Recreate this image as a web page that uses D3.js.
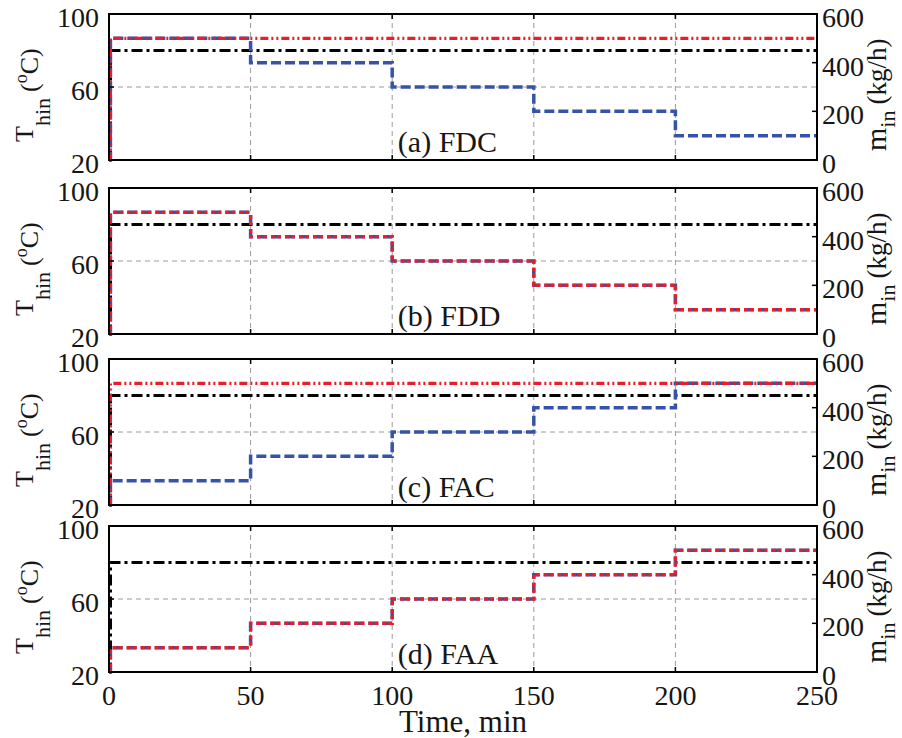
<!DOCTYPE html>
<html>
<head>
<meta charset="utf-8">
<script src="https://cdn.jsdelivr.net/npm/d3@7"></script>
<style>
  html, body { margin: 0; padding: 0; background: #fff; }
  svg { display: block; }
</style>
</head>
<body>
<svg id="chart" width="902" height="738"></svg>
<script>
// Time base of the step programmes (min)
const times = [0, 0.5, 50, 100, 150, 200, 250];

// Inlet flow programmes (kg/h), right axis
const blueFDC = [0, 500, 400, 300, 200, 100, 100];
const redFDC  = [0, 500, 500, 500, 500, 500, 500];
const blueFDD = [0, 500, 400, 300, 200, 100, 100];
const redFDD  = [0, 500, 400, 300, 200, 100, 100];
const blueFAC = [0, 100, 200, 300, 400, 500, 500];
const redFAC  = [0, 500, 500, 500, 500, 500, 500];
const blueFAA = [0, 100, 200, 300, 400, 500, 500];
const redFAA  = [0, 100, 200, 300, 400, 500, 500];

// Hot inlet temperature (°C), left axis
const tempHot = [20, 80, 80, 80, 80, 80, 80];

const panelNames = ["(a) FDC", "(b) FDD", "(c) FAC", "(d) FAA"];
const blueSeries = [blueFDC, blueFDD, blueFAC, blueFAA];
const redSeries  = [redFDC, redFDD, redFAC, redFAA];

const xTicks = [0, 50, 100, 150, 200, 250];
const leftTicks = [20, 60, 100];
const rightTicks = [0, 200, 400, 600];

const FONT = "'Liberation Serif', 'Times New Roman', serif";
const svg = d3.select("#chart");
const left = 109, right = 817;
const panelTops = [14, 188, 359, 526];
const panelH = 146;

const x = d3.scaleLinear().domain([0, 250]).range([left, right]);

const BLUE = "#3553a8", RED = "#ee1c25", BLACK = "#000";
const tickLen = 5;

function txt(sel) {
  return sel.attr("font-family", FONT).attr("fill", "#161616");
}

panelNames.forEach((name, i) => {
  const top = panelTops[i], bottom = top + panelH;
  const yL = d3.scaleLinear().domain([20, 100]).range([bottom, top]);
  const yR = d3.scaleLinear().domain([0, 600]).range([bottom, top]);
  const g = svg.append("g");

  // grid
  g.selectAll(".vgrid").data([50, 100, 150, 200]).join("line")
    .attr("x1", d => x(d)).attr("x2", d => x(d))
    .attr("y1", top).attr("y2", bottom)
    .attr("stroke", "#9a9a9a").attr("stroke-width", 1).attr("stroke-dasharray", "5,4");
  g.append("line")
    .attr("x1", left).attr("x2", right).attr("y1", yL(60)).attr("y2", yL(60))
    .attr("stroke", "#9a9a9a").attr("stroke-width", 1).attr("stroke-dasharray", "5,4");

  const lineL = d3.line().x((d, k) => x(times[k])).y(d => yL(d)).curve(d3.curveStepAfter);
  const lineR = d3.line().x((d, k) => x(times[k])).y(d => yR(d)).curve(d3.curveStepAfter);

  const overlap = (i === 1 || i === 3);

  // black dash-dot temperature
  g.append("path").attr("d", lineL(tempHot))
    .attr("fill", "none").attr("stroke", BLACK).attr("stroke-width", 3.2)
    .attr("stroke-dasharray", "11,4,3,4");

  // blue dashed flow
  g.append("path").attr("d", lineR(blueSeries[i]))
    .attr("fill", "none").attr("stroke", BLUE).attr("stroke-width", 3.5)
    .attr("stroke-dasharray", "10,4");

  // red dotted flow
  g.append("path").attr("d", lineR(redSeries[i]))
    .attr("fill", "none").attr("stroke", RED).attr("stroke-width", 3.2)
    .attr("stroke-dasharray", overlap ? "4,2,4,4" : "8,3,2,3,2,3");

  // frame
  g.append("rect").attr("x", left).attr("y", top).attr("width", right - left).attr("height", panelH)
    .attr("fill", "none").attr("stroke", "#000").attr("stroke-width", 2);

  // inward ticks
  g.selectAll(".tb").data(xTicks).join("line")
    .attr("x1", d => x(d)).attr("x2", d => x(d)).attr("y1", bottom).attr("y2", bottom - tickLen)
    .attr("stroke", "#000").attr("stroke-width", 1.5);
  g.selectAll(".tt").data(xTicks).join("line")
    .attr("x1", d => x(d)).attr("x2", d => x(d)).attr("y1", top).attr("y2", top + tickLen)
    .attr("stroke", "#000").attr("stroke-width", 1.5);
  g.selectAll(".tl").data(leftTicks).join("line")
    .attr("x1", left).attr("x2", left + tickLen).attr("y1", d => yL(d)).attr("y2", d => yL(d))
    .attr("stroke", "#000").attr("stroke-width", 1.5);
  g.selectAll(".tr").data(rightTicks).join("line")
    .attr("x1", right).attr("x2", right - tickLen).attr("y1", d => yR(d)).attr("y2", d => yR(d))
    .attr("stroke", "#000").attr("stroke-width", 1.5);

  // tick labels
  txt(g.selectAll(".ll").data(leftTicks).join("text"))
    .attr("x", left - 10).attr("y", d => yL(d) + 13)
    .attr("text-anchor", "end").attr("font-size", 28).text(d => d);
  txt(g.selectAll(".rl").data(rightTicks).join("text"))
    .attr("x", right + 5).attr("y", d => yR(d) + 13)
    .attr("text-anchor", "start").attr("font-size", 28).text(d => d);

  // panel label
  txt(g.append("text")).attr("x", x(102)).attr("y", bottom - 8)
    .attr("font-size", 30).text(name);

  // left axis title: T_hin (°C)
  const cy = (top + bottom) / 2;
  const lt = txt(g.append("text"))
    .attr("transform", `translate(33,${cy + 55}) rotate(-90)`)
    .attr("font-size", 26);
  lt.append("tspan").text("T");
  lt.append("tspan").attr("font-size", 22).attr("dy", 17).text("hin");
  lt.append("tspan").attr("dy", -12).attr("dx", 6).text("(");
  lt.append("tspan").attr("font-size", 18).attr("dy", -11).text("o");
  lt.append("tspan").attr("dy", 11).text("C)");

  // right axis title: m_in (kg/h)
  const rt = txt(g.append("text"))
    .attr("transform", `translate(886,${cy + 64}) rotate(-90)`)
    .attr("font-size", 30);
  rt.append("tspan").text("m");
  rt.append("tspan").attr("font-size", 22).attr("dy", 9).text("in");
  rt.append("tspan").attr("font-size", 27).attr("dy", -9).attr("dx", 6).text("(kg/h)");

  // bottom axis labels only on the last panel
  if (i === 3) {
    txt(g.selectAll(".bl").data(xTicks).join("text"))
      .attr("x", d => x(d)).attr("y", bottom + 33)
      .attr("text-anchor", "middle").attr("font-size", 28).text(d => d);
  }
});

txt(svg.append("text")).attr("x", (left + right) / 2).attr("y", 732)
  .attr("text-anchor", "middle").attr("font-size", 31).text("Time, min");
</script>
</body>
</html>
